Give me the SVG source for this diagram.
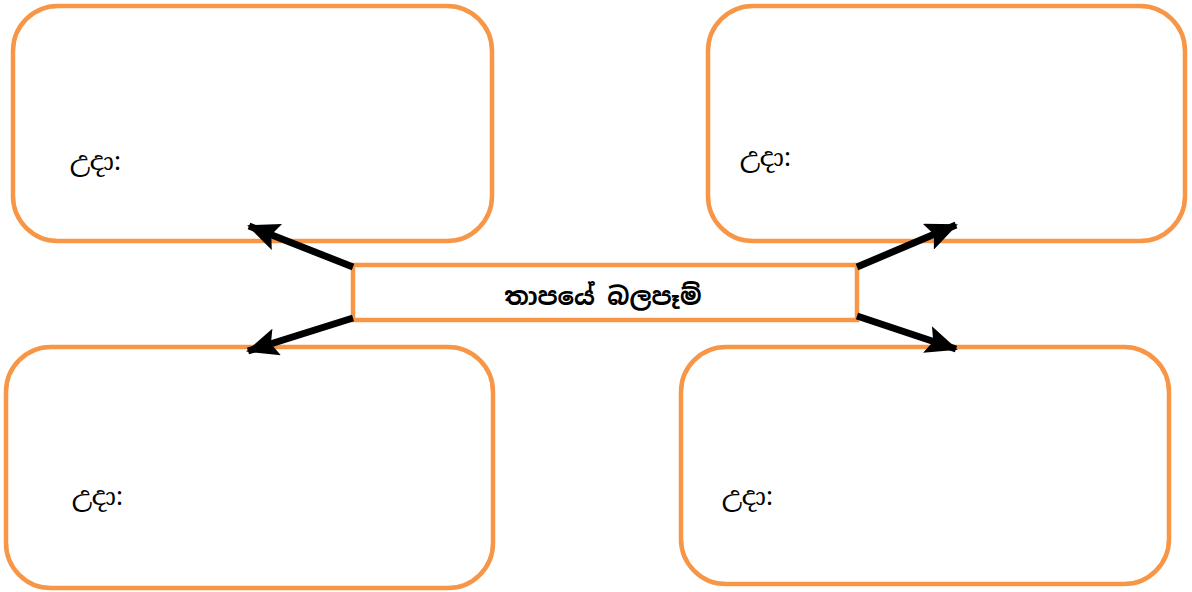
<svg xmlns="http://www.w3.org/2000/svg" width="1192" height="592" viewBox="0 0 1192 592">
<style>
.box{fill:#fff;stroke:#F79646;stroke-width:4.5}
.lbl{font-family:"Noto Serif Sinhala","Noto Sans Sinhala","Iskoola Pota","Noto Sans","DejaVu Sans",sans-serif;font-size:26px;fill:#000}
.title{font-family:"Noto Sans Sinhala","Iskoola Pota","Noto Sans","DejaVu Sans",sans-serif;font-weight:bold;font-size:24.5px}
.conn{stroke:#000;stroke-width:7;fill:none;marker-end:url(#ah)}
</style>
<defs>
<marker id="ah" markerUnits="userSpaceOnUse" markerWidth="32" markerHeight="28" refX="30" refY="14" orient="auto">
<path d="M0,0 L32,14 L0,28 L6,14 Z" fill="#000"/>
</marker>
</defs>
<rect width="1192" height="592" fill="#fff"/>
<g id="box-tl"><rect class="box" x="13" y="6" width="479" height="235" rx="45"/><text class="lbl" x="70" y="170">උදා:</text></g>
<g id="box-tr"><rect class="box" x="708" y="6" width="477" height="235" rx="45"/><text class="lbl" x="740" y="166">උදා:</text></g>
<g id="box-bl"><rect class="box" x="6" y="347" width="487" height="241" rx="45"/><text class="lbl" x="72" y="505">උදා:</text></g>
<g id="box-br"><rect class="box" x="681" y="347" width="488" height="237" rx="45"/><text class="lbl" x="722" y="505">උදා:</text></g>
<g id="center"><rect class="box" x="353" y="265" width="504" height="55"/><text class="lbl title" x="603" y="305" text-anchor="middle">තාපයේ බලපෑම්</text></g>
<g id="connectors">
<line class="conn" x1="353" y1="267" x2="249" y2="226"/>
<line class="conn" x1="353" y1="318" x2="248" y2="351"/>
<line class="conn" x1="857" y1="267" x2="956" y2="225"/>
<line class="conn" x1="857" y1="316" x2="956" y2="349"/>
</g>
</svg>
